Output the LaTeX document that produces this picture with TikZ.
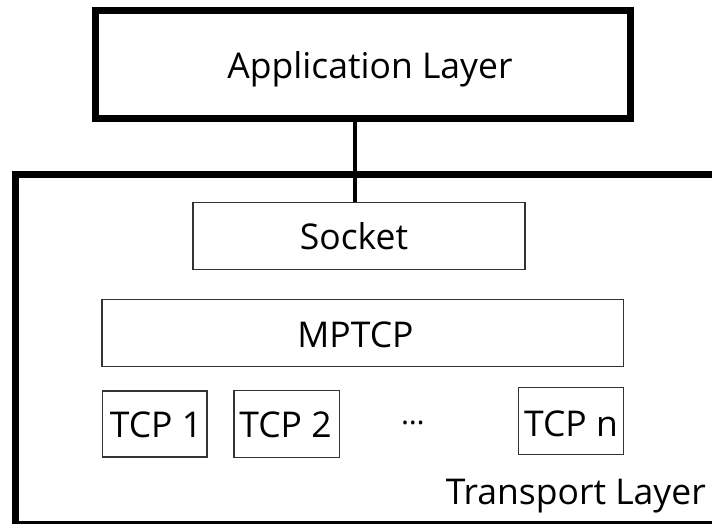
\documentclass[tikz,border=0pt]{standalone}
\usepackage{fontspec}
\setmainfont{Open Sans}
\begin{document}
\begin{tikzpicture}[x=1pt,y=-1pt,
  heavybox/.style={draw=black,line width=7pt,inner sep=0pt},
  thinbox/.style={draw=black!80,line width=1.4pt,inner sep=0pt},
  link/.style={draw=black,line width=4pt},
  lbl/.style={anchor=base,inner sep=0pt,font=\fontsize{35.5}{40}\selectfont},
]
\useasboundingbox (0,0) rectangle (712,523);
\clip (0,0) rectangle (712,523);

% application layer
\node[heavybox,minimum width=535pt,minimum height=108.4pt] (app) at (363.3,64.5) {};
\node[lbl] (apptxt) at (370,78.3) {Application Layer};

% transport layer frame (runs past the right and bottom edges)
\draw[heavybox] (15.3,174.5) rectangle (724,524);
\node[lbl,anchor=base east] (tl) at (706,504.7) {Transport Layer};

% stack inside the transport layer
\node[thinbox,minimum width=332pt,minimum height=67pt] (sock) at (359,236) {};
\node[lbl] (socktxt) at (354,249.8) {Socket};

\node[thinbox,minimum width=521.5pt,minimum height=67.3pt] (mptcp) at (362.8,333) {};
\node[lbl] (mptcptxt) at (355.5,347.5) {MPTCP};

\node[thinbox,minimum width=104.6pt,minimum height=66pt] (tcpa) at (154.7,424) {};
\node[lbl] (tcpatxt) at (156,437) {TCP 1};

\node[thinbox,minimum width=105.3pt,minimum height=66.6pt] (tcpb) at (286.7,424) {};
\node[lbl] (tcpbtxt) at (285.5,437) {TCP 2};

\node[inner sep=0pt,font=\fontsize{30}{32}\selectfont] (dots) at (413,423) {…};

\node[thinbox,minimum width=104.9pt,minimum height=66.6pt] (tcpn) at (570.8,421) {};
\node[lbl] (tcpntxt) at (571,436.3) {TCP n};

% link from the application layer down to the socket
\coordinate (jx) at (355.3,0);
\draw[link] (app.south -| jx) -- (sock.north -| jx);
\end{tikzpicture}
\end{document}
